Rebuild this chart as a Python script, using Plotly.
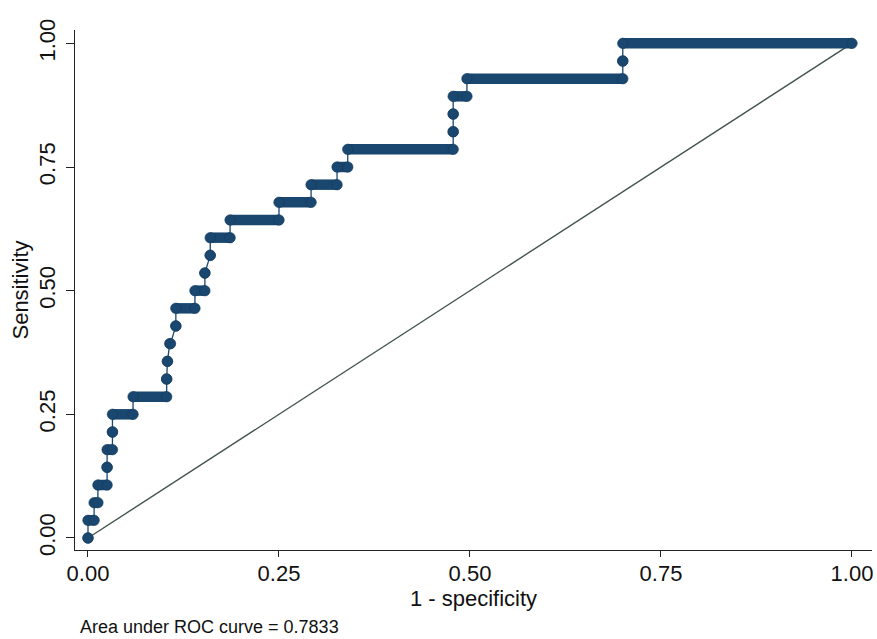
import plotly.graph_objects as go

# Sensitivity levels (k/28) and the 1-specificity span covered at each level
sens = [0.0, 0.0357, 0.0714, 0.1071, 0.1429, 0.1786, 0.2143, 0.25, 0.2857,
        0.3214, 0.3571, 0.3929, 0.4286, 0.4643, 0.5, 0.5357, 0.5714, 0.6071,
        0.6429, 0.6786, 0.7143, 0.75, 0.7857, 0.8214, 0.8571, 0.8929, 0.9286,
        0.9643, 1.0]
fpr_start = [0.0, 0.0, 0.008, 0.013, 0.025, 0.025, 0.032, 0.032, 0.059,
             0.103, 0.104, 0.107, 0.115, 0.115, 0.140, 0.153, 0.160, 0.160,
             0.186, 0.250, 0.292, 0.326, 0.340, 0.478, 0.478, 0.478, 0.496,
             0.700, 0.700]
fpr_end = [0.0, 0.008, 0.013, 0.025, 0.025, 0.032, 0.032, 0.059, 0.103,
           0.103, 0.104, 0.108, 0.115, 0.140, 0.153, 0.153, 0.160, 0.186,
           0.250, 0.292, 0.326, 0.340, 0.478, 0.478, 0.478, 0.496, 0.700,
           0.700, 1.0]

ref_x = [0.0, 1.0]
ref_y = [0.0, 1.0]

tick_vals = [0.0, 0.25, 0.5, 0.75, 1.0]
tick_text = ["0.00", "0.25", "0.50", "0.75", "1.00"]
x_title = "1 - specificity"
y_title = "Sensitivity"
note = "Area under ROC curve = 0.7833"

NAVY = "#1a476f"
FONT = "Liberation Sans, Arial, sans-serif"

path_x, path_y = [], []
bar_x, bar_y = [], []
for s, a, b in zip(sens, fpr_start, fpr_end):
    path_x += [a, b]
    path_y += [s, s]
    if b > a:
        bar_x += [a, b, None]
        bar_y += [s, s, None]

fig = go.Figure()
fig.add_trace(go.Scatter(x=ref_x, y=ref_y, mode="lines",
                         line=dict(color="#43554b", width=1.4),
                         hoverinfo="skip", showlegend=False))
fig.add_trace(go.Scatter(x=path_x, y=path_y, mode="lines",
                         line=dict(color=NAVY, width=1.3),
                         showlegend=False))
fig.add_trace(go.Scatter(x=bar_x, y=bar_y, mode="lines",
                         line=dict(color=NAVY, width=10.5),
                         showlegend=False, hoverinfo="skip"))
fig.add_trace(go.Scatter(x=path_x, y=path_y, mode="markers",
                         marker=dict(color=NAVY, size=10.5,
                                     line=dict(color="#143a5c", width=0.6)),
                         showlegend=False))

axis_common = dict(
    tickvals=tick_vals, ticktext=tick_text, ticks="outside",
    tickcolor="#222", tickwidth=1.2, showline=True, linecolor="#222",
    linewidth=1.3, showgrid=False, zeroline=False,
    tickfont=dict(family=FONT, size=22, color="#111"),
)

fig.update_layout(
    width=877, height=639, autosize=False,
    margin=dict(l=75, r=5, t=30, b=89),
    paper_bgcolor="white", plot_bgcolor="white",
    font=dict(family=FONT, color="#111"),
    xaxis=dict(range=[-0.017, 1.0262], ticklen=6, ticklabelstandoff=-3,
               title=dict(text=x_title, font=dict(family=FONT, size=22), standoff=0),
               **axis_common),
    yaxis=dict(range=[-0.0243, 1.027], ticklen=8, tickangle=-90,
               ticklabelstandoff=2,
               title=dict(text=y_title, font=dict(family=FONT, size=22), standoff=0),
               **axis_common),
    annotations=[dict(text=note, xref="paper", yref="paper",
                      x=0.004, y=-0.148, xanchor="left", yanchor="middle",
                      showarrow=False,
                      font=dict(family=FONT, size=18, color="#111"))],
)

fig.write_html("out.html")
